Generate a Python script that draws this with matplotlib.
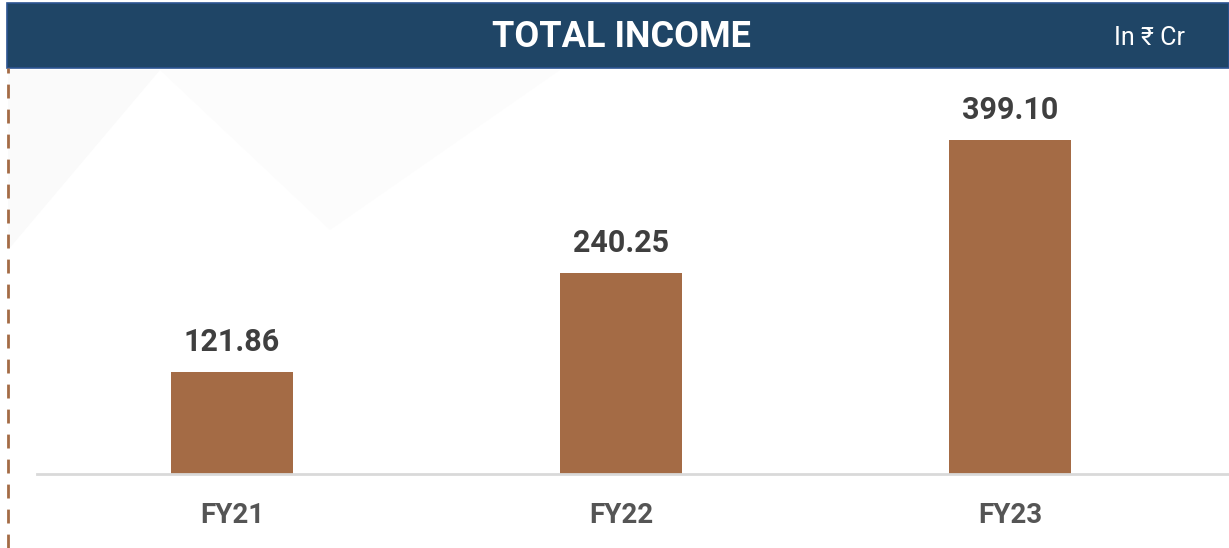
import matplotlib.pyplot as plt
from matplotlib.patches import Rectangle, Polygon
from matplotlib.lines import Line2D

years = ['FY21', 'FY22', 'FY23']
income = [121.86, 240.25, 399.10]
labels = ['121.86', '240.25', '399.10']

W, H = 1229, 548
fig = plt.figure(figsize=(W / 100, H / 100), dpi=100)
fig.patch.set_facecolor('white')
font = ['Roboto', 'DejaVu Sans']

# faint decorative shape in the background
fig.patches.append(Polygon([(8 / W, 1 - 250 / H), (8 / W, 1 - 70 / H), (160 / W, 1 - 70 / H)],
                           closed=True, transform=fig.transFigure,
                           facecolor='#fafafa', edgecolor='none', zorder=0))
fig.patches.append(Polygon([(160 / W, 1 - 70 / H), (560 / W, 1 - 70 / H), (330 / W, 1 - 230 / H)],
                           closed=True, transform=fig.transFigure,
                           facecolor='#fcfcfc', edgecolor='none', zorder=0))

# header band
fig.patches.append(Rectangle((7 / W, 1 - 68 / H), 1 - 7 / W, 65 / H, transform=fig.transFigure,
                             facecolor='#1f4566', edgecolor='#2c5491', linewidth=1.2, zorder=1))
fig.text(621 / W, 1 - 37 / H, 'TOTAL INCOME', color='white', fontsize=26, fontweight='bold',
         ha='center', va='center', family=font)
fig.text(1150 / W, 1 - 38 / H, 'In ₹ Cr', color='white', fontsize=18,
         ha='center', va='center', family=font)

# dashed brown left rule
fig.lines.append(Line2D([8 / W, 8 / W], [0, 1 - 68 / H], transform=fig.transFigure,
                        color='#a46b45', linewidth=2, linestyle=(0, (5, 4))))

# plot area
ax = fig.add_axes([37 / W, 74 / H, 1 - 37 / W, (474 - 68) / H])
ax.patch.set_alpha(0)
x = range(len(years))
ax.bar(x, income, width=0.314, color='#a46b45', zorder=2)
for i, v in enumerate(income):
    ax.text(i, v + 25, labels[i], ha='center', va='baseline', fontsize=22,
            fontweight='bold', color='#3f3f3f', family=font)

ax.set_xlim(-0.501, 2.563)
ax.set_ylim(0, 485)
ax.set_xticks(list(x))
ax.set_xticklabels(years, fontsize=20, fontweight='bold', color='#555555', family=font)
ax.tick_params(axis='x', length=0, pad=20)
ax.set_yticks([])
for s in ['top', 'right', 'left']:
    ax.spines[s].set_visible(False)
ax.spines['bottom'].set_color('#d9d9d9')
ax.spines['bottom'].set_linewidth(2)

fig.savefig('out.png', dpi=100)
